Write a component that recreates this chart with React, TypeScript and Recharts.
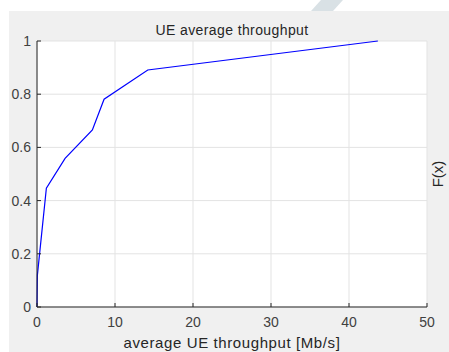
import React from "react";
import { LineChart, Line, XAxis, YAxis, CartesianGrid } from "recharts";

const throughputMbps = [0, 0.05, 1.2, 3.6, 7.1, 8.6, 14.2, 43.7];
const cdfValues = [0, 0.12, 0.447, 0.559, 0.666, 0.781, 0.891, 1.0];
const xTicks = [0, 10, 20, 30, 40, 50];
const yTicks = [0, 0.2, 0.4, 0.6, 0.8, 1];
const titleText = "UE average throughput";
const xLabelText = "average UE throughput [Mb/s]";
const yLabelText = "F(x)";

const data = throughputMbps.map((x, i) => ({ x, y: cdfValues[i] }));

const FONT = '"Liberation Sans", Arial, Helvetica, sans-serif';
const AXIS = "#262626";
const TICK_TEXT = "#404040";

const XTick = (props: any) => {
  const { x, y, payload } = props;
  return (
    <g>
      <line x1={x} y1={y} x2={x} y2={y - 4} stroke={AXIS} strokeWidth={1} />
      <text x={x} y={y + 20} textAnchor="middle" fontSize={14} fontFamily={FONT} fill={TICK_TEXT}>
        {payload.value}
      </text>
    </g>
  );
};

const YTick = (props: any) => {
  const { x, y, payload } = props;
  return (
    <g>
      <line x1={x} y1={y} x2={x + 4} y2={y} stroke={AXIS} strokeWidth={1} />
      <text x={x - 6} y={y + 5} textAnchor="end" fontSize={14} fontFamily={FONT} fill={TICK_TEXT}>
        {payload.value}
      </text>
    </g>
  );
};

export default function App() {
  return (
    <div style={{ position: "absolute", left: 0, top: 0, width: 449, height: 352, background: "#fff", overflow: "hidden" }}>
      <svg width={449} height={352} style={{ position: "absolute", left: 0, top: 0 }}>
        <polygon points="321,0 343,0 333,11 311,11" fill="#d9e1e5" />
        <rect x={9} y={11} width={440} height={341} fill="#f0f0f0" />
      </svg>
      <div style={{ position: "absolute", left: 0, top: 0 }}>
        <LineChart width={449} height={352} data={data} margin={{ top: 41, right: 22, bottom: 0, left: 0 }}>
          <CartesianGrid stroke="#e3e3e3" fill="#ffffff" horizontalValues={yTicks} verticalValues={xTicks} />
          <XAxis
            dataKey="x"
            type="number"
            domain={[0, 50]}
            ticks={xTicks}
            height={45}
            tickSize={0}
            tickMargin={0}
            tickLine={false}
            axisLine={{ stroke: AXIS }}
            tick={<XTick />}
            interval={0}
          />
          <YAxis
            type="number"
            domain={[0, 1]}
            ticks={yTicks}
            width={37}
            tickSize={0}
            tickMargin={0}
            tickLine={false}
            axisLine={{ stroke: AXIS }}
            tick={<YTick />}
            interval={0}
          />
          <Line
            dataKey="y"
            type="linear"
            stroke="#0000ff"
            strokeWidth={1.2}
            dot={false}
            isAnimationActive={false}
          />
        </LineChart>
      </div>
      <svg width={449} height={352} style={{ position: "absolute", left: 0, top: 0, pointerEvents: "none" }}>
        <text x={232} y={35} textAnchor="middle" fontSize={14} letterSpacing={0.4} fontFamily={FONT} fill={AXIS}>
          {titleText}
        </text>
        <text x={232} y={348} textAnchor="middle" fontSize={15} letterSpacing={0.6} fontFamily={FONT} fill={AXIS}>
          {xLabelText}
        </text>
        <text
          x={443}
          y={174}
          textAnchor="middle"
          fontSize={15}
          fontFamily={FONT}
          fill={AXIS}
          transform="rotate(-90 443 174)"
        >
          {yLabelText}
        </text>
      </svg>
    </div>
  );
}
